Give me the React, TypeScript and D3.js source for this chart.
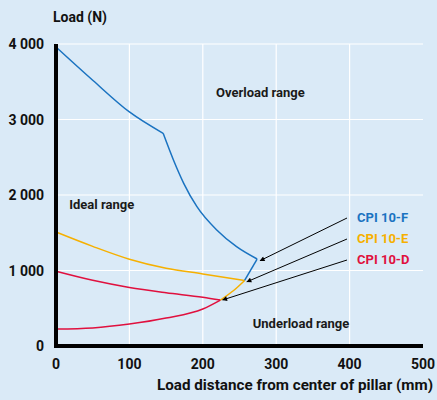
import React, { useEffect, useRef } from 'react';
import * as d3 from 'd3';

type Pt = [number, number];

// CPI 10-F envelope: upper part, the steep part after the kink, and the short side segment
const fTopA: Pt[] = [[0, 3960], [50, 3520], [100, 3100], [146, 2817]];
const fTopB: Pt[] = [[146, 2817], [160, 2464], [174, 2155], [192, 1845], [219, 1536], [246, 1315], [274, 1152]];
const fSide: Pt[] = [[274, 1152], [257, 868]];
// CPI 10-E
const eTop: Pt[] = [[0, 1510], [50, 1320], [100, 1150], [150, 1030], [200, 955], [257, 868]];
const eSide: Pt[] = [[257, 868], [242, 735], [224, 608]];
// CPI 10-D
const dTop: Pt[] = [[0, 990], [50, 870], [100, 775], [150, 705], [200, 645], [224, 608]];
const dBottom: Pt[] = [[0, 225], [50, 240], [100, 290], [150, 370], [200, 490], [224, 608]];

const xTicks = [0, 100, 200, 300, 400, 500];
const yTicks = [0, 1000, 2000, 3000, 4000];

const products = ['CPI 10-F', 'CPI 10-E', 'CPI 10-D'];
const colors = ['#1a73c1', '#f6b000', '#e0103e'];
// arrow tips (data coords) per product
const arrowTips: Pt[] = [[278, 1130], [260, 850], [227, 610]];

const App: React.FC = () => {
  const svgRef = useRef<SVGSVGElement>(null);

  useEffect(() => {
    if (!svgRef.current) return;
    const svg = d3.select(svgRef.current);
    svg.selectAll('*').remove();

    const W = 437, H = 400;
    const margin = { top: 44, right: 14, bottom: 54, left: 56 };
    const width = W - margin.left - margin.right;
    const height = H - margin.top - margin.bottom;
    const font = 'Roboto, sans-serif';

    svg.append('rect').attr('width', W).attr('height', H).attr('fill', '#daeaf7');

    const g = svg.append('g').attr('transform', `translate(${margin.left},${margin.top})`);

    const x = d3.scaleLinear().domain([0, 500]).range([0, width]);
    const y = d3.scaleLinear().domain([0, 4000]).range([height, 0]);

    // Grid
    g.append('g')
      .selectAll('line')
      .data(xTicks.slice(1, -1))
      .enter()
      .append('line')
      .attr('x1', d => x(d)).attr('x2', d => x(d))
      .attr('y1', 0).attr('y2', height)
      .attr('stroke', '#fff').attr('stroke-width', 1.2);
    g.append('g')
      .selectAll('line')
      .data(yTicks.slice(1))
      .enter()
      .append('line')
      .attr('x1', 0).attr('x2', width)
      .attr('y1', d => y(d)).attr('y2', d => y(d))
      .attr('stroke', '#fff').attr('stroke-width', 1.2);

    // Range labels
    const rangeLabels: [string, number, number][] = [
      ['Overload range', 218, 3300],
      ['Ideal range', 18, 1820],
      ['Underload range', 268, 232],
    ];
    g.selectAll('.range')
      .data(rangeLabels)
      .enter()
      .append('text')
      .attr('x', d => x(d[1]))
      .attr('y', d => y(d[2]))
      .text(d => d[0])
      .attr('font-family', font)
      .attr('font-weight', 'bold')
      .attr('font-size', 13)
      .attr('fill', '#1a1a1a');

    // Curves
    const line = d3.line<Pt>().x(d => x(d[0])).y(d => y(d[1])).curve(d3.curveMonotoneX);
    const seg = d3.line<Pt>().x(d => x(d[0])).y(d => y(d[1])).curve(d3.curveCatmullRom);
    const curves: [Pt[], string, boolean][] = [
      [dBottom, colors[2], true],
      [dTop, colors[2], true],
      [eTop, colors[1], true],
      [eSide, colors[1], false],
      [fTopA, colors[0], true],
      [fTopB, colors[0], true],
      [fSide, colors[0], false],
    ];
    curves.forEach(([data, c, mono]) => {
      g.append('path')
        .datum(data)
        .attr('fill', 'none')
        .attr('stroke', c)
        .attr('stroke-width', 1.5)
        .attr('d', mono ? line : seg);
    });

    // Axes
    g.append('line').attr('x1', 0).attr('x2', 0).attr('y1', 0).attr('y2', height + 2)
      .attr('stroke', '#000').attr('stroke-width', 4);
    g.append('line').attr('x1', -2).attr('x2', width).attr('y1', height).attr('y2', height)
      .attr('stroke', '#000').attr('stroke-width', 4);

    g.selectAll('.xt')
      .data(xTicks)
      .enter()
      .append('text')
      .attr('x', d => x(d))
      .attr('y', height + 23)
      .attr('text-anchor', 'middle')
      .text(d => String(d))
      .attr('font-family', font).attr('font-weight', 'bold').attr('font-size', 14).attr('fill', '#111');

    g.selectAll('.yt')
      .data(yTicks)
      .enter()
      .append('text')
      .attr('x', -12)
      .attr('y', d => y(d) + 5)
      .attr('text-anchor', 'end')
      .text(d => (d === 0 ? '0' : d3.format(',')(d).replace(',', ' ')))
      .attr('font-family', font).attr('font-weight', 'bold').attr('font-size', 14).attr('fill', '#111');

    svg.append('text')
      .attr('x', 53).attr('y', 22)
      .text('Load (N)')
      .attr('font-family', font).attr('font-weight', 'bold').attr('font-size', 14).attr('fill', '#111');

    svg.append('text')
      .attr('x', 157).attr('y', 390)
      .attr('textLength', 276)
      .attr('lengthAdjust', 'spacingAndGlyphs')
      .text('Load distance from center of pillar (mm)')
      .attr('font-family', font).attr('font-weight', 'bold').attr('font-size', 15).attr('fill', '#111');

    // Arrows + product labels
    svg.append('defs').append('marker')
      .attr('id', 'ah')
      .attr('viewBox', '0 0 10 10')
      .attr('refX', 9).attr('refY', 5)
      .attr('markerWidth', 9).attr('markerHeight', 5)
      .attr('markerUnits', 'userSpaceOnUse')
      .attr('orient', 'auto')
      .append('path').attr('d', 'M0,0L10,5L0,10Z').attr('fill', '#000');

    products.forEach((p, i) => {
      const ly = 222 + i * 21;
      svg.append('line')
        .attr('x1', 347).attr('y1', ly - 4)
        .attr('x2', margin.left + x(arrowTips[i][0]))
        .attr('y2', margin.top + y(arrowTips[i][1]))
        .attr('stroke', '#000').attr('stroke-width', 1)
        .attr('marker-end', 'url(#ah)');
      svg.append('text')
        .attr('x', 357).attr('y', ly)
        .text(p)
        .attr('font-family', font).attr('font-weight', 'bold').attr('font-size', 13)
        .attr('fill', colors[i]);
    });
  }, []);

  return (
    <svg
      ref={svgRef}
      width={437}
      height={400}
      style={{ position: 'absolute', left: 0, top: 0, display: 'block' }}
    />
  );
};

export default App;
